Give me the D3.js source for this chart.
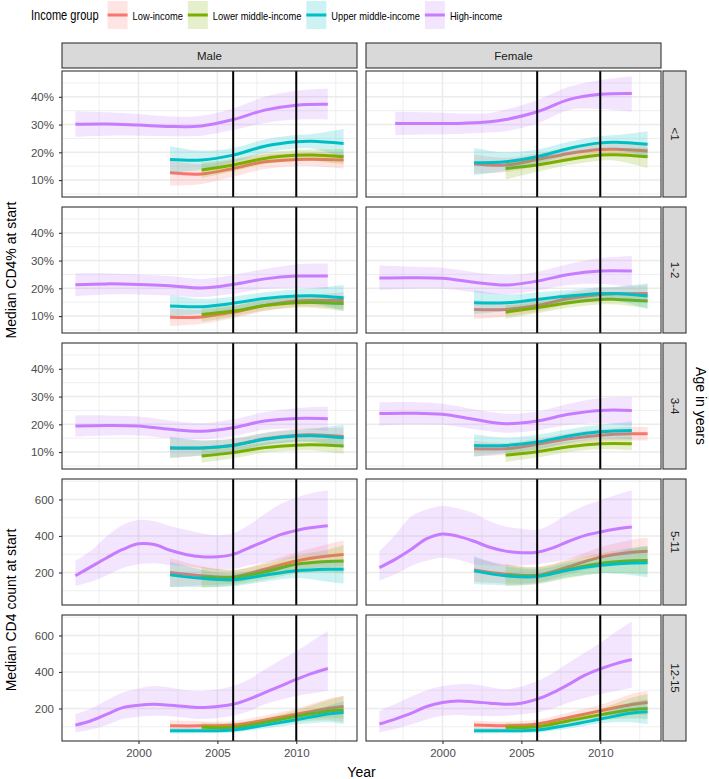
<!DOCTYPE html>
<html>
<head>
<meta charset="utf-8">
<script src="https://cdn.jsdelivr.net/npm/d3@7"></script>
<style>
  body { margin: 0; background: #fff; }
  text { font-family: "Liberation Sans", Arial, Helvetica, sans-serif; }
</style>
</head>
<body>
<svg id="chart" width="709" height="779"></svg>
<script>
// ---- categories / labels
const GROUPS       = ['low', 'lmid', 'umid', 'high'];
const GROUP_LABELS = ['Low-income', 'Lower middle-income', 'Upper middle-income', 'High-income'];
const GROUP_COLORS = ['#F8766D', '#7CAE00', '#00BFC4', '#C77CFF'];
const SEXES        = ['Male', 'Female'];
const AGES         = ['<1', '1-2', '3-4', '5-11', '12-15'];
const X_TICKS      = [2000, 2005, 2010];
const X_MINOR      = [1997.5, 2002.5, 2007.5, 2012.5];
const PCT_TICKS    = [10, 20, 30, 40];
const PCT_MINOR    = [5, 15, 25, 35, 45];
const COUNT_TICKS  = [200, 400, 600];
const COUNT_MINOR  = [100, 300, 500, 700];
const POLICY_YEARS = [2006, 2010];

// ---- smoothed medians, rows are [year, fit, lower, upper]
// CD4% (rows <1, 1-2, 3-4)
const M_LT1 = {
  low:  [[2002,12.6,8.0,17.0],[2004,12.2,8.6,15.8],[2006,14.2,11.2,17.2],[2008,16.6,14.0,19.2],[2010,17.4,15.0,19.8],[2011,17.5,15.0,20.0],[2013,17.2,14.2,20.2]],
  lmid: [[2004,13.6,10.8,16.4],[2006,15.4,13.2,17.6],[2008,17.8,15.8,19.8],[2010,18.9,17.0,20.8],[2011,19.0,17.0,21.0],[2013,18.4,15.6,21.2]],
  umid: [[2002,17.4,12.6,22.2],[2004,17.2,13.8,20.6],[2006,19.0,16.4,21.6],[2008,22.2,19.8,24.6],[2010,23.8,21.4,26.2],[2011,24.0,21.4,26.6],[2013,23.2,18.2,28.4]],
  high: [[1996,30.1,25.6,34.8],[1998,30.2,26.0,34.4],[2000,29.8,26.0,33.8],[2002,29.3,25.8,32.9],[2004,29.5,26.0,33.2],[2006,31.8,28.0,35.8],[2008,35.2,30.6,40.0],[2010,37.0,31.8,42.2],[2012,37.3,31.8,43.0]]
};
const F_LT1 = {
  low:  [[2002,15.8,12.4,19.2],[2004,15.4,12.8,18.0],[2006,17.4,15.2,19.6],[2008,19.6,17.6,21.6],[2010,21.0,19.0,23.0],[2011,21.1,19.0,23.2],[2013,20.5,17.8,23.2]],
  lmid: [[2004,14.2,10.2,17.0],[2006,15.4,13.0,17.8],[2008,17.4,15.4,19.4],[2010,19.0,17.0,21.0],[2011,19.1,17.0,21.2],[2013,18.4,14.4,21.6]],
  umid: [[2002,16.2,11.8,21.6],[2004,16.6,13.4,20.0],[2006,18.4,15.8,21.0],[2008,21.4,19.0,23.8],[2010,23.4,21.0,25.8],[2011,23.6,21.0,26.2],[2013,22.9,18.2,27.6]],
  high: [[1997,30.4,26.2,34.6],[1999,30.4,26.4,34.4],[2001,30.4,26.6,34.0],[2003,31.0,27.2,34.2],[2004,31.8,27.6,35.4],[2006,34.6,30.4,38.8],[2008,39.0,35.2,43.6],[2010,40.9,35.6,46.0],[2012,41.2,34.6,47.4]]
};
const M_1_2 = {
  low:  [[2002,9.6,6.4,12.8],[2004,9.7,7.2,12.2],[2006,11.4,9.2,13.6],[2008,13.8,11.8,15.8],[2010,15.4,13.4,17.4],[2011,15.6,13.4,17.8],[2013,15.6,12.6,18.6]],
  lmid: [[2004,10.6,8.0,13.2],[2006,11.8,9.8,13.8],[2008,13.8,12.0,15.6],[2010,14.8,13.0,16.6],[2011,14.9,13.0,16.8],[2013,14.5,11.8,17.2]],
  umid: [[2002,13.6,10.0,17.6],[2004,13.4,10.8,16.2],[2006,14.6,12.2,17.0],[2008,16.3,14.0,18.6],[2010,17.2,14.8,19.6],[2011,17.3,14.6,20.0],[2013,16.6,11.8,21.2]],
  high: [[1996,21.3,17.2,25.4],[1998,21.6,17.8,25.4],[2000,21.4,17.8,25.0],[2002,20.9,17.4,24.4],[2004,20.1,16.8,23.4],[2006,21.4,18.0,24.8],[2008,23.4,19.8,27.0],[2010,24.4,20.2,28.6],[2012,24.4,19.9,28.9]]
};
const F_1_2 = {
  low:  [[2002,12.4,9.0,15.8],[2004,12.4,9.8,15.0],[2006,13.8,11.6,16.0],[2008,16.3,14.2,18.4],[2010,17.8,15.6,20.0],[2011,18.0,15.6,20.4],[2013,18.1,15.0,21.2]],
  lmid: [[2004,11.4,9.0,13.8],[2006,13.0,11.0,15.0],[2008,14.8,13.0,16.6],[2010,16.0,14.2,17.8],[2011,16.0,14.2,17.8],[2013,15.4,12.8,18.0]],
  umid: [[2002,14.8,10.6,19.4],[2004,14.8,11.8,17.8],[2006,16.0,13.4,18.6],[2008,17.2,15.0,19.4],[2010,18.1,15.8,20.4],[2011,18.1,15.6,20.6],[2013,17.2,12.6,21.8]],
  high: [[1996,23.7,19.3,28.2],[1998,23.8,19.8,27.8],[2000,23.6,19.8,27.4],[2002,22.2,18.6,25.8],[2004,21.2,17.8,24.8],[2006,22.6,19.2,26.0],[2008,25.0,21.2,28.8],[2010,26.2,21.6,30.8],[2012,26.2,20.6,31.6]]
};
const M_3_4 = {
  low:  [[2002,11.4,7.8,15.2],[2004,11.5,8.8,14.2],[2006,12.5,10.2,14.8],[2008,14.8,12.6,17.0],[2010,16.1,13.8,18.4],[2011,16.2,13.8,18.6],[2013,15.6,12.4,18.8]],
  lmid: [[2004,8.6,6.2,11.0],[2006,9.8,7.8,11.8],[2008,11.6,9.8,13.4],[2010,12.5,10.6,14.4],[2011,12.6,10.6,14.6],[2013,12.2,9.4,15.0]],
  umid: [[2002,11.6,8.0,15.6],[2004,11.5,8.8,14.2],[2006,12.4,10.0,14.8],[2008,14.6,12.4,16.8],[2010,15.8,13.6,18.0],[2011,15.9,13.6,18.4],[2013,15.2,11.6,19.8]],
  high: [[1996,19.4,15.6,23.2],[1998,19.6,16.0,23.2],[2000,19.4,16.0,22.8],[2002,18.2,15.0,21.4],[2004,17.5,14.6,20.4],[2006,18.8,15.8,21.8],[2008,21.2,18.0,24.4],[2010,22.1,18.4,25.8],[2012,22.0,17.6,26.4]]
};
const F_3_4 = {
  low:  [[2002,11.2,8.4,14.0],[2004,11.2,9.0,13.4],[2006,12.8,10.8,14.8],[2008,14.8,12.8,16.8],[2010,16.1,14.0,18.2],[2012,16.6,14.2,19.0],[2013,16.6,14.2,19.0]],
  lmid: [[2004,8.9,6.4,11.4],[2006,10.1,8.0,12.2],[2008,11.9,10.0,13.8],[2010,13.0,11.0,15.0],[2012,13.0,10.6,15.4]],
  umid: [[2002,12.4,8.4,16.4],[2004,12.4,9.6,15.2],[2006,13.6,11.0,16.2],[2008,15.8,13.4,18.2],[2010,17.3,14.8,19.8],[2012,17.8,14.6,21.0]],
  high: [[1996,23.9,19.5,27.9],[1998,24.0,20.0,28.0],[2000,23.6,19.8,27.4],[2002,21.8,18.2,25.4],[2004,20.2,17.0,23.8],[2006,21.2,17.8,24.6],[2008,23.6,19.8,27.4],[2010,25.0,20.4,29.4],[2012,25.0,19.4,29.8]]
};
// CD4 count (rows 5-11, 12-15)
const M_5_11 = {
  low:  [[2002,200,120,280],[2004,182,130,235],[2006,176,140,212],[2008,218,180,256],[2010,263,215,311],[2012,290,230,355],[2013,299,235,375]],
  lmid: [[2004,173,115,230],[2006,173,130,215],[2008,203,160,246],[2010,245,195,295],[2012,260,200,325],[2013,263,195,350]],
  umid: [[2002,187,120,260],[2004,168,120,215],[2006,160,125,195],[2008,185,150,220],[2010,209,170,248],[2012,218,150,268],[2013,218,140,265]],
  high: [[1996,182,128,263],[1997,232,150,320],[1998,281,185,400],[1999,326,225,460],[2000,357,245,488],[2001,353,250,480],[2002,322,240,455],[2003,299,236,434],[2004,286,225,415],[2005,286,215,405],[2006,299,220,415],[2007,335,240,460],[2008,371,255,520],[2009,407,268,575],[2010,430,278,610],[2011,446,285,635],[2012,456,290,650]]
};
const F_5_11 = {
  low:  [[2002,214,150,280],[2004,191,140,245],[2006,185,145,228],[2008,232,190,275],[2010,284,230,338],[2012,311,245,380],[2013,317,245,390]],
  lmid: [[2004,185,125,245],[2006,182,135,230],[2008,218,170,266],[2010,250,195,305],[2012,264,195,335],[2013,266,190,345]],
  umid: [[2002,209,135,290],[2004,182,130,235],[2006,178,140,218],[2008,214,175,253],[2010,239,195,283],[2012,252,185,330],[2013,254,173,344]],
  high: [[1996,227,155,317],[1997,272,190,405],[1998,326,236,506],[1999,385,265,545],[2000,411,281,564],[2001,398,270,550],[2002,371,245,524],[2003,338,238,480],[2004,317,236,452],[2005,308,240,440],[2006,311,245,434],[2007,335,258,470],[2008,371,272,524],[2009,402,282,565],[2010,422,290,596],[2011,438,295,625],[2012,449,299,650]]
};
const M_12_15 = {
  low:  [[2002,105,75,135],[2004,105,80,130],[2006,109,88,132],[2008,136,110,162],[2010,169,138,200],[2012,200,148,252],[2013,211,145,268]],
  lmid: [[2004,97,72,122],[2006,97,76,120],[2008,124,100,148],[2010,157,125,190],[2012,185,135,245],[2013,192,124,268]],
  umid: [[2002,78,62,94],[2004,78,64,92],[2006,82,68,98],[2008,109,90,128],[2010,138,112,165],[2012,170,125,215],[2013,178,115,240]],
  high: [[1996,109,70,169],[1997,133,85,200],[1998,169,110,245],[1999,205,142,287],[2000,218,155,310],[2001,223,160,323],[2002,218,158,315],[2003,211,150,300],[2004,205,142,296],[2005,211,148,305],[2006,223,160,323],[2007,251,185,360],[2008,287,223,413],[2009,323,248,465],[2010,359,268,513],[2011,392,283,570],[2012,419,296,625]]
};
const F_12_15 = {
  low:  [[2002,109,85,133],[2004,105,85,128],[2006,115,95,138],[2008,151,125,178],[2010,187,155,220],[2012,222,165,280],[2013,233,165,296]],
  lmid: [[2004,97,72,122],[2006,100,78,122],[2008,133,108,158],[2010,165,135,198],[2012,193,145,260],[2013,200,142,278]],
  umid: [[2002,78,62,94],[2004,78,64,92],[2006,82,68,98],[2008,109,90,128],[2010,142,118,168],[2012,175,125,235],[2013,182,115,251]],
  high: [[1996,115,70,187],[1997,142,88,225],[1998,173,112,265],[1999,211,140,300],[2000,233,160,323],[2001,241,165,333],[2002,236,160,332],[2003,229,158,318],[2004,223,160,305],[2005,229,168,320],[2006,251,178,350],[2007,287,200,395],[2008,332,233,450],[2009,381,258,505],[2010,417,278,559],[2011,446,296,620],[2012,468,314,676]]
};
const PANELS = [[M_LT1, F_LT1], [M_1_2, F_1_2], [M_3_4, F_3_4], [M_5_11, F_5_11], [M_12_15, F_12_15]];

// ---- layout
const PANEL_X   = [62, 366];
const PANEL_W   = 295;
const PANEL_TOP = 71;
const PANEL_H   = 126;
const ROW_STEP  = 136;
const STRIP_TOP = 43;
const STRIP_H   = 25;
const RSTRIP_X  = 663;
const RSTRIP_W  = 23;
const LEGEND_SQUEEZE = 0.79;   // legend text in the original is horizontally condensed

const GRID   = '#EBEBEB';
const DARK   = '#333333';
const TICKTX = '#4D4D4D';

const svg = d3.select('#chart');

const x    = d3.scaleLinear().domain([1995.15, 2013.85]).range([0, PANEL_W]);
const yPct = d3.scaleLinear().domain([3.9, 49.3]).range([PANEL_H, 0]);
const yCnt = d3.scaleLinear().domain([22, 712]).range([PANEL_H, 0]);

AGES.forEach((age, r) => {
  const isPct = r < 3;
  const y     = isPct ? yPct : yCnt;
  const top   = PANEL_TOP + r * ROW_STEP;

  SEXES.forEach((sex, c) => {
    const g = svg.append('g').attr('transform', `translate(${PANEL_X[c]},${top})`);

    // grid
    const minorY = isPct ? PCT_MINOR : COUNT_MINOR;
    const majorY = isPct ? PCT_TICKS : COUNT_TICKS;
    g.selectAll('.gminy').data(minorY).join('line')
      .attr('x1', 0).attr('x2', PANEL_W).attr('y1', d => y(d)).attr('y2', d => y(d))
      .attr('stroke', GRID).attr('stroke-width', 0.8);
    g.selectAll('.gminx').data(X_MINOR).join('line')
      .attr('y1', 0).attr('y2', PANEL_H).attr('x1', d => x(d)).attr('x2', d => x(d))
      .attr('stroke', GRID).attr('stroke-width', 0.8);
    g.selectAll('.gmajy').data(majorY).join('line')
      .attr('x1', 0).attr('x2', PANEL_W).attr('y1', d => y(d)).attr('y2', d => y(d))
      .attr('stroke', GRID).attr('stroke-width', 1.6);
    g.selectAll('.gmajx').data(X_TICKS).join('line')
      .attr('y1', 0).attr('y2', PANEL_H).attr('x1', d => x(d)).attr('x2', d => x(d))
      .attr('stroke', GRID).attr('stroke-width', 1.6);

    const clipId = `clip-${r}-${c}`;
    g.append('clipPath').attr('id', clipId)
      .append('rect').attr('width', PANEL_W).attr('height', PANEL_H);
    const plot = g.append('g').attr('clip-path', `url(#${clipId})`);

    const area = d3.area().curve(d3.curveCatmullRom.alpha(0.5))
      .x(d => x(d[0])).y0(d => y(d[2])).y1(d => y(d[3]));
    const line = d3.line().curve(d3.curveCatmullRom.alpha(0.5))
      .x(d => x(d[0])).y(d => y(d[1]));

    GROUPS.forEach((k, i) => {
      const rows = PANELS[r][c][k];
      plot.append('path').datum(rows).attr('d', area)
        .attr('fill', GROUP_COLORS[i]).attr('fill-opacity', 0.2);
      plot.append('path').datum(rows).attr('d', line)
        .attr('fill', 'none').attr('stroke', GROUP_COLORS[i])
        .attr('stroke-width', 3).attr('stroke-linecap', 'butt');
    });

    plot.selectAll('.vline').data(POLICY_YEARS).join('line')
      .attr('x1', d => x(d)).attr('x2', d => x(d)).attr('y1', 0).attr('y2', PANEL_H)
      .attr('stroke', '#000').attr('stroke-width', 2);

    g.append('rect').attr('width', PANEL_W).attr('height', PANEL_H)
      .attr('fill', 'none').attr('stroke', DARK).attr('stroke-width', 1.1);

    // y axis on left column
    if (c === 0) {
      const ax = g.append('g').call(
        d3.axisLeft(y).tickValues(majorY).tickSize(3).tickPadding(5)
          .tickFormat(d => isPct ? `${d}%` : d)
      );
      ax.select('.domain').remove();
      ax.selectAll('line').attr('stroke', DARK).attr('stroke-width', 1.1);
      ax.selectAll('text').attr('fill', TICKTX).attr('font-size', 11.5)
        .attr('font-family', '"Liberation Sans", Arial, sans-serif');
    }
    // x axis on bottom row
    if (r === AGES.length - 1) {
      const ax = g.append('g').attr('transform', `translate(0,${PANEL_H})`).call(
        d3.axisBottom(x).tickValues(X_TICKS).tickSize(3).tickPadding(5).tickFormat(d3.format('d'))
      );
      ax.select('.domain').remove();
      ax.selectAll('line').attr('stroke', DARK).attr('stroke-width', 1.1);
      ax.selectAll('text').attr('fill', TICKTX).attr('font-size', 11.5)
        .attr('font-family', '"Liberation Sans", Arial, sans-serif');
    }
  });

  // right strip
  const sg = svg.append('g').attr('transform', `translate(${RSTRIP_X},${top})`);
  sg.append('rect').attr('width', RSTRIP_W).attr('height', PANEL_H)
    .attr('fill', '#D9D9D9').attr('stroke', DARK).attr('stroke-width', 1.1);
  sg.append('text')
    .attr('transform', `translate(${RSTRIP_W / 2},${PANEL_H / 2}) rotate(90)`)
    .attr('text-anchor', 'middle').attr('dominant-baseline', 'central')
    .attr('font-size', 11.5).attr('fill', '#1A1A1A').text(age);
});

// top strips
SEXES.forEach((sex, c) => {
  const sg = svg.append('g').attr('transform', `translate(${PANEL_X[c]},${STRIP_TOP})`);
  sg.append('rect').attr('width', PANEL_W).attr('height', STRIP_H)
    .attr('fill', '#D9D9D9').attr('stroke', DARK).attr('stroke-width', 1.1);
  sg.append('text').attr('x', PANEL_W / 2).attr('y', STRIP_H / 2)
    .attr('text-anchor', 'middle').attr('dominant-baseline', 'central')
    .attr('font-size', 11.5).attr('fill', '#1A1A1A').text(sex);
});

// axis titles
const lastBottom = PANEL_TOP + (AGES.length - 1) * ROW_STEP + PANEL_H;
svg.append('text')
  .attr('x', (PANEL_X[0] + PANEL_X[1] + PANEL_W) / 2).attr('y', 777)
  .attr('text-anchor', 'middle').attr('font-size', 14).attr('fill', '#000').text('Year');
svg.append('text')
  .attr('transform', `translate(16,${(PANEL_TOP + PANEL_TOP + 2 * ROW_STEP + PANEL_H) / 2}) rotate(-90)`)
  .attr('text-anchor', 'middle').attr('font-size', 14).attr('fill', '#000').text('Median CD4% at start');
svg.append('text')
  .attr('transform', `translate(16,${(PANEL_TOP + 3 * ROW_STEP + lastBottom) / 2}) rotate(-90)`)
  .attr('text-anchor', 'middle').attr('font-size', 14).attr('fill', '#000').text('Median CD4 count at start');
svg.append('text')
  .attr('transform', `translate(696,${(PANEL_TOP + lastBottom) / 2}) rotate(90)`)
  .attr('text-anchor', 'middle').attr('font-size', 14).attr('fill', '#000').text('Age in years');

// legend
const lg = svg.append('g').attr('class', 'legend').attr('transform', 'translate(31,0)');
function squeezedText(parent, tx, ty, size, label) {
  const t = parent.append('text')
    .attr('transform', `translate(${tx},${ty}) scale(${LEGEND_SQUEEZE},1)`)
    .attr('font-size', size).attr('fill', '#000').text(label);
  return t.node().getComputedTextLength() * LEGEND_SQUEEZE;
}
let lx = squeezedText(lg, 0, 20, 14, 'Income group') + 9;
GROUP_LABELS.forEach((lab, i) => {
  lg.append('rect').attr('x', lx).attr('y', 1).attr('width', 20).attr('height', 28)
    .attr('fill', GROUP_COLORS[i]).attr('fill-opacity', 0.2);
  lg.append('line').attr('x1', lx).attr('x2', lx + 20).attr('y1', 15).attr('y2', 15)
    .attr('stroke', GROUP_COLORS[i]).attr('stroke-width', 3);
  lx += 25 + squeezedText(lg, lx + 25, 19.5, 11.8, lab) + 5;
});
</script>
</body>
</html>
